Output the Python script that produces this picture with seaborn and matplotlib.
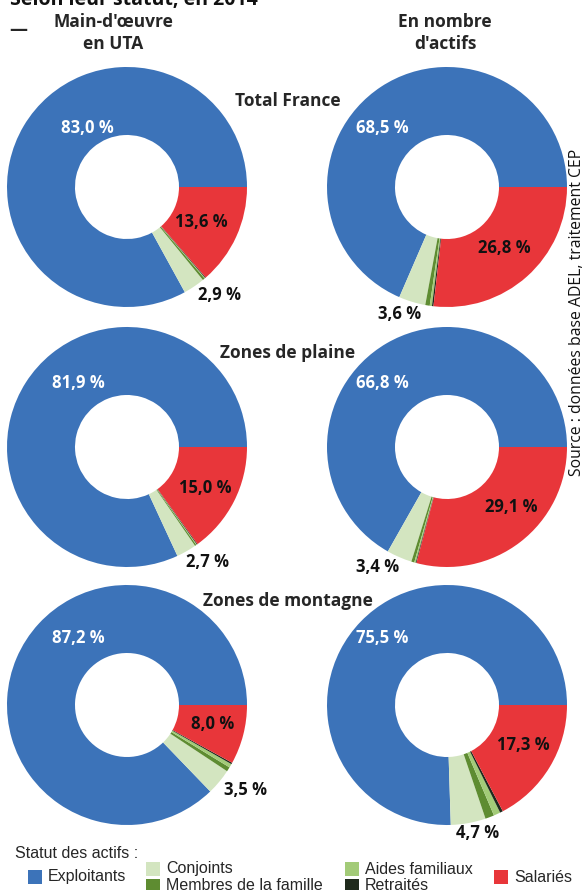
import matplotlib
matplotlib.use("Agg")
import matplotlib.pyplot as plt
import seaborn as sns
from matplotlib.patches import Rectangle

# parts of each donut, counter-clockwise from 3 o'clock
statuts = ['Exploitants', 'Conjoints', 'Membres de la famille', 'Aides familiaux', 'Retraités', 'Salariés']
zones = ['Total France', 'Zones de plaine', 'Zones de montagne']
mesures = ["Main-d'œuvre\nen UTA", "En nombre\nd'actifs"]

france_uta = [83.0, 2.9, 0.3, 0.1, 0.1, 13.6]
france_actifs = [68.5, 3.6, 0.6, 0.3, 0.2, 26.8]
plaine_uta = [81.9, 2.7, 0.2, 0.1, 0.1, 15.0]
plaine_actifs = [66.8, 3.4, 0.4, 0.2, 0.1, 29.1]
montagne_uta = [87.2, 3.5, 0.6, 0.5, 0.2, 8.0]
montagne_actifs = [75.5, 4.7, 1.2, 0.9, 0.4, 17.3]

donnees = [[france_uta, france_actifs],
           [plaine_uta, plaine_actifs],
           [montagne_uta, montagne_actifs]]

couleurs = ['#3c73b9', '#d3e5c0', '#5e8c31', '#a3cb78', '#1f2a1c', '#e8363a']

W, H = 584, 890
sns.set_theme(style="white")
plt.rcParams['font.family'] = ['Open Sans', 'DejaVu Sans']

fig = plt.figure(figsize=(W / 100, H / 100), dpi=100)


def fx(x):
    return x / W


def fy(y):
    return 1 - y / H


R = 120
centres_x = [127, 447]
centres_y = [187, 447, 705]

# label pixel positions (exploitants, salariés, conjoints)
pos_labels = [
    [[(87, 128), (201, 222), (219, 295)], [(382, 128), (504, 248), (400, 314)]],
    [[(78, 383), (205, 488), (208, 562)], [(382, 383), (511, 507), (378, 567)]],
    [[(78, 638), (213, 724), (245, 790)], [(382, 638), (523, 745), (478, 833)]],
]


def txt(v):
    return f"{v:.1f} %".replace('.', ',')


for i, cy in enumerate(centres_y):
    for j, cx in enumerate(centres_x):
        vals = donnees[i][j]
        ax = fig.add_axes([fx(cx - R), fy(cy + R), 2 * R / W, 2 * R / H])
        ax.pie(vals, colors=couleurs, startangle=0, counterclock=True,
               radius=1, wedgeprops=dict(width=1 - 52 / R, linewidth=0))
        ax.set_xlim(-1, 1)
        ax.set_ylim(-1, 1)
        ax.set_aspect('equal')
        ax.axis('off')
        p = pos_labels[i][j]
        fig.text(fx(p[0][0]), fy(p[0][1]), txt(vals[0]), color='white',
                 fontsize=12, fontweight='bold', ha='center', va='center')
        fig.text(fx(p[1][0]), fy(p[1][1]), txt(vals[5]), color='#111111',
                 fontsize=12, fontweight='bold', ha='center', va='center')
        fig.text(fx(p[2][0]), fy(p[2][1]), txt(vals[1]), color='#111111',
                 fontsize=12, fontweight='bold', ha='center', va='center')

# titles
fig.text(fx(10), fy(5), "Selon leur statut, en 2014", fontsize=14, fontweight='bold',
         ha='left', va='baseline', color='#111111')
fig.text(fx(9), fy(35), "—", fontsize=13, fontweight='bold', ha='left', va='baseline')
fig.text(fx(113), fy(33), mesures[0], fontsize=12.5, fontweight='bold',
         ha='center', va='center', linespacing=1.3)
fig.text(fx(445), fy(33), mesures[1], fontsize=12.5, fontweight='bold',
         ha='center', va='center', linespacing=1.3)
for z, y in zip(zones, [101, 353, 601]):
    fig.text(fx(288), fy(y), z, fontsize=12.5, fontweight='bold', ha='center', va='center')

fig.text(fx(577), fy(312), "Source : données base ADEL, traitement CEP", rotation=90,
         fontsize=11.3, ha='center', va='center', color='#111111')

# legend
leg_font = ['Liberation Sans', 'DejaVu Sans']
fig.text(fx(15), fy(853), "Statut des actifs :", fontsize=11.5, family=leg_font,
         ha='left', va='center')
leg_pos = [(28, 877), (146, 869), (146, 886), (345, 869), (345, 886), (494, 877)]
for nom, c, (x, y) in zip(statuts, couleurs, leg_pos):
    fig.patches.append(Rectangle((fx(x), fy(y + 7)), 14 / W, 14 / H, transform=fig.transFigure,
                                 facecolor=c, edgecolor='none'))
    fig.text(fx(x + 20), fy(y), nom, fontsize=11.5, family=leg_font, ha='left', va='center')

fig.savefig('out.png', dpi=100)
